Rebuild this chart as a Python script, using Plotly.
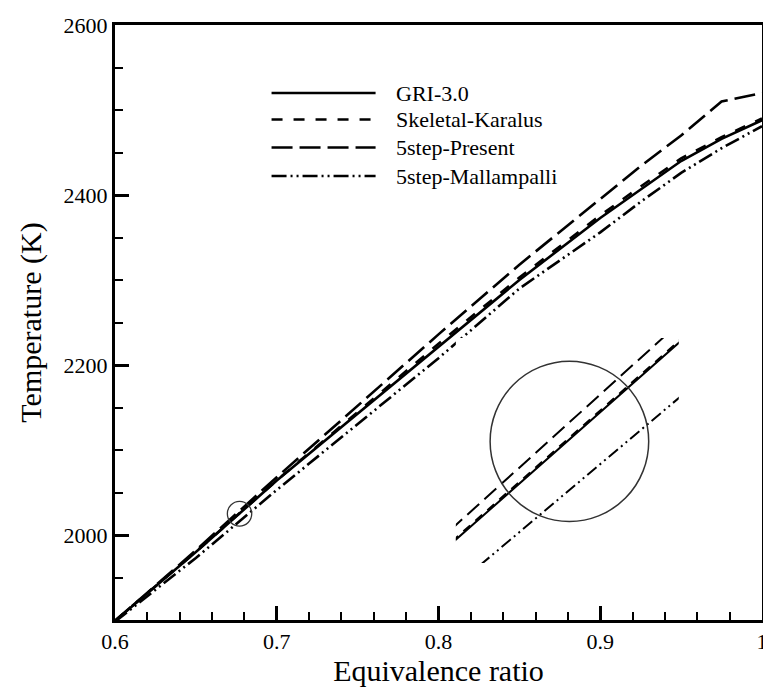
import plotly.graph_objects as go

# ---- data ----
phi = [0.60, 0.65, 0.70, 0.75, 0.80, 0.85, 0.90, 0.925, 0.95, 0.975, 1.00]
T_gri = [1899, 1980, 2064, 2143, 2222, 2300, 2373, 2407, 2440, 2466, 2488]
T_skel = [1899.3, 1980.3, 2064.3, 2145, 2225, 2303, 2376, 2410, 2443, 2468, 2490]
T_present = [1899, 1982, 2068, 2152, 2236, 2318, 2396, 2434, 2470, 2510, 2520]
T_mall = [1898, 1973, 2053, 2130, 2208, 2290, 2356, 2392, 2426, 2455, 2481]

series_names = ["GRI-3.0", "Skeletal-Karalus", "5step-Present", "5step-Mallampalli"]
series_vals = [T_gri, T_skel, T_present, T_mall]

x_ticks = [0.6, 0.7, 0.8, 0.9, 1.0]
x_tick_labels = ["0.6", "0.7", "0.8", "0.9", "1"]
y_ticks = [2000, 2200, 2400, 2600]

# zoomed region (circle) in data units
zoom_cx, zoom_cy = 0.677, 2025.0
zoom_rx, zoom_ry = 0.00754, 14.5

# ---- layout geometry (pixels inside the figure) ----
W, H = 763, 685
ML, MR, MT, MB = 107, 3, 17, 73
PW, PH = W - ML - MR, H - MT - MB


def px_x(fx):
    return (fx - ML) / PW


def px_y(fy):
    return (H - MB - fy) / PH


dashes = ["solid", "11px,11px", "21px,7px", "15px,4px,2px,4px,2px,4px"]
inset_dashes = ["solid", "9px,7px", "16px,7px", "12px,4px,2px,4px,2px,4px"]
FONT = "Liberation Serif"

fig = go.Figure()
for name, vals, d in zip(series_names, series_vals, dashes):
    fig.add_trace(go.Scatter(x=phi, y=vals, mode="lines", name=name, showlegend=False,
                             line=dict(color="black", width=2.6, dash=d)))
# inset (magnified view of the circled region)
for name, vals, d in zip(series_names, series_vals, inset_dashes):
    fig.add_trace(go.Scatter(x=phi, y=vals, mode="lines", name=name, showlegend=False,
                             xaxis="x2", yaxis="y2",
                             line=dict(color="black", width=2.0, dash=d)))

fig.add_shape(type="circle", xref="x", yref="y",
              x0=zoom_cx - zoom_rx, x1=zoom_cx + zoom_rx,
              y0=zoom_cy - zoom_ry, y1=zoom_cy + zoom_ry,
              line=dict(color="#333333", width=1.3))
fig.add_shape(type="circle", xref="x2", yref="y2",
              x0=zoom_cx - zoom_rx, x1=zoom_cx + zoom_rx,
              y0=zoom_cy - zoom_ry, y1=zoom_cy + zoom_ry,
              line=dict(color="#333333", width=1.5))

# ---- legend drawn by hand ----
leg_x0, leg_x1, leg_tx = 265, 370, 389
leg_y = [85, 111.5, 139.5, 168]
for name, d, fy in zip(series_names, dashes, leg_y):
    fig.add_shape(type="line", xref="paper", yref="paper",
                  x0=px_x(leg_x0), x1=px_x(leg_x1), y0=px_y(fy), y1=px_y(fy),
                  line=dict(color="black", width=2.6, dash=d))
    fig.add_annotation(xref="paper", yref="paper", x=px_x(leg_tx), y=px_y(fy),
                       text=name, showarrow=False, xanchor="left", yanchor="middle",
                       font=dict(family=FONT, size=22, color="black"))

axis_common = dict(showline=True, linecolor="black", linewidth=3, mirror=True,
                   ticks="inside", ticklen=14, tickwidth=3, tickcolor="black",
                   showgrid=False, zeroline=False,
                   tickfont=dict(family=FONT, size=22, color="black"))

fig.update_layout(
    width=W, height=H,
    margin=dict(l=ML, r=MR, t=MT, b=MB),
    paper_bgcolor="white", plot_bgcolor="white",
    font=dict(family=FONT, color="black"),
    xaxis=dict(range=[0.6, 1.0], tickvals=x_ticks, ticktext=x_tick_labels,
               minor=dict(dtick=0.02, tick0=0.6, ticks="inside", ticklen=8, tickwidth=1.5, tickcolor="black"),
               title=dict(text="Equivalence ratio", font=dict(family=FONT, size=30), standoff=1),
               **axis_common),
    yaxis=dict(range=[1900, 2600], tickvals=y_ticks,
               minor=dict(dtick=50, tick0=1900, ticks="inside", ticklen=8, tickwidth=1.5, tickcolor="black"),
               title=dict(text="Temperature (K)", font=dict(family=FONT, size=30), standoff=14),
               **axis_common),
    xaxis2=dict(domain=[px_x(451), px_x(676)], range=[0.6662, 0.6874], anchor="y2",
                visible=False, showgrid=False, zeroline=False),
    yaxis2=dict(domain=[px_y(555), px_y(330)], range=[2003.0, 2043.7], anchor="x2",
                visible=False, showgrid=False, zeroline=False),
    showlegend=False,
)

fig.write_html("out.html")
